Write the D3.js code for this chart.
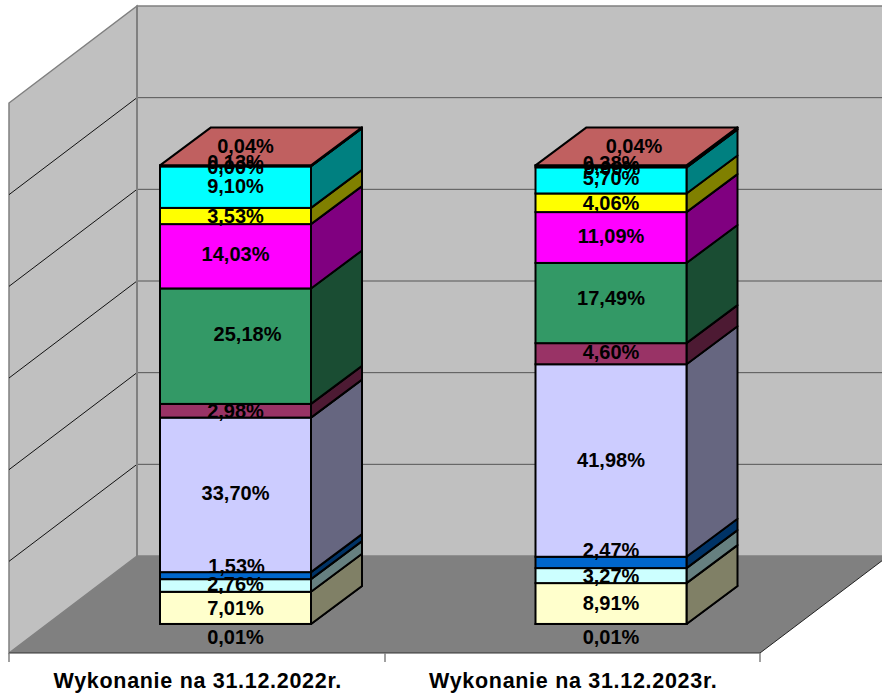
<!DOCTYPE html>
<html>
<head>
<meta charset="utf-8">
<script src="https://cdnjs.cloudflare.com/ajax/libs/d3/7.8.5/d3.min.js"></script>
<style>
html, body { margin: 0; padding: 0; background: #fff; }
svg { display: block; }
text { font-family: "Liberation Sans", Arial, sans-serif; font-weight: bold; fill: #000; }
</style>
</head>
<body>
<div id="chart"></div>
<script>
const categories = ["Wykonanie na 31.12.2022r.", "Wykonanie na 31.12.2023r."];

// one entry per series, bottom of the stack first
const values2022 = [0.01, 7.01, 2.76, 1.53, 33.70, 2.98, 25.18, 14.03, 3.53, 9.10, 0.00, 0.13, 0.04];
const values2023 = [0.01, 8.91, 3.27, 2.47, 41.98, 4.60, 17.49, 11.09, 4.06, 5.70, 0.00, 0.38, 0.04];
const seriesColors = ["#9999ff", "#ffffcc", "#ccffff", "#0066cc", "#ccccff", "#993366", "#339966",
    "#ff00ff", "#ffff00", "#00ffff", "#800080", "#808000", "#ff8080"];
const sideColors = ["#4c4c80", "#808066", "#668080", "#003366", "#666680", "#4d1a33", "#1a4d33",
    "#800080", "#808000", "#008080", "#400040", "#404000", "#804040"];
const topColor = "#c06060";
const gridTicks = [0, 20, 40, 60, 80, 100, 120];

// hand placed labels, the original chart had them dragged around
const labelDx = [
    [0, 0, 0, 1, 0, 0, 12, 0, 0, 0, 0, 0, 10],
    [0, 0, 0, 0, 0, 0, 0, 0, 0, 0, 1, 0, 23]
];
const labelDy = [
    [13, 0, -1, -10, -2, 0, -12, -2, 0, -1, 1, -4, -19],
    [13, -1, 0, -12, -1, -2, -5, -2, 0, -2, 1, -3, -19]
];

const width = 882;
const height = 698;

const svg = d3.select("#chart").append("svg")
    .attr("width", width)
    .attr("height", height)
    .attr("viewBox", [0, 0, width, height]);

// front plane of the bars
const y = d3.scaleLinear().domain([0, 100]).range([624, 165.4]);
const x = d3.scaleBand().domain(categories).range([9, 760]);
const barW = 151;
const barShift = 38.75;        // bars stand halfway into the floor
const dx = 51, dy = -38;       // depth of a bar
// back wall and floor
const backY = d3.scaleLinear().domain([0, 120]).range([556, 6]);
const wallX = 137, wallRight = 883, wallDy = 97;

const poly = pts => "M" + pts.map(p => p.join(",")).join("L") + "Z";

// back wall
svg.append("path")
    .attr("d", poly([[wallX, backY(120)], [wallRight, backY(120)], [wallRight, backY(0)], [wallX, backY(0)]]))
    .attr("fill", "#c0c0c0").attr("stroke", "#808080").attr("stroke-width", 1.5);
// left wall
svg.append("path")
    .attr("d", poly([[9, backY(120) + wallDy], [wallX, backY(120)], [wallX, backY(0)], [9, backY(0) + wallDy]]))
    .attr("fill", "#c0c0c0").attr("stroke", "#808080").attr("stroke-width", 1.5);
// floor
svg.append("path")
    .attr("d", poly([[9, backY(0) + wallDy], [wallX, backY(0)], [wallRight, backY(0)], [wallRight, backY(0) + 4], [760, backY(0) + wallDy]]))
    .attr("fill", "#808080");
svg.append("line").attr("x1", 760).attr("y1", backY(0) + wallDy).attr("x2", wallRight).attr("y2", backY(0) + 4)
    .attr("stroke", "#222").attr("stroke-width", 1);

// gridlines, back wall then left wall
gridTicks.filter(d => d > 0 && d < 120).forEach(d => {
    svg.append("line").attr("x1", wallX).attr("x2", wallRight)
        .attr("y1", backY(d)).attr("y2", backY(d))
        .attr("stroke", "#555").attr("stroke-width", 1);
    svg.append("line").attr("x1", 9).attr("x2", wallX)
        .attr("y1", backY(d) + wallDy).attr("y2", backY(d))
        .attr("stroke", "#111").attr("stroke-width", 1);
});
svg.append("line").attr("x1", wallX).attr("x2", wallX).attr("y1", backY(120)).attr("y2", backY(0))
    .attr("stroke", "#808080").attr("stroke-width", 2);

// bottom axis
svg.append("path").attr("d", `M9,${backY(0) + wallDy}H760`).attr("fill", "none").attr("stroke", "#333").attr("stroke-width", 1);
[9, 385, 760].forEach(t => {
    svg.append("line").attr("x1", t).attr("x2", t)
        .attr("y1", backY(0) + wallDy).attr("y2", backY(0) + wallDy + 9)
        .attr("stroke", "#808080").attr("stroke-width", 1.5);
});

const stacks = [values2022, values2023];
const labels = [];

stacks.forEach((vals, i) => {
    const x0 = x(categories[i]) + (x.bandwidth() - barW) / 2 + barShift;
    const x1 = x0 + barW;
    const g = svg.append("g");
    let cum = 0;
    vals.forEach((v, s) => {
        const yb = y(cum), yt = y(cum + v);
        g.append("path")
            .attr("d", poly([[x1, yb], [x1 + dx, yb + dy], [x1 + dx, yt + dy], [x1, yt]]))
            .attr("fill", sideColors[s]).attr("stroke", "#000").attr("stroke-width", 2).attr("stroke-linejoin", "round");
        g.append("rect")
            .attr("x", x0).attr("y", yt).attr("width", barW).attr("height", yb - yt)
            .attr("fill", seriesColors[s]).attr("stroke", "#000").attr("stroke-width", 2);
        labels.push({ x: x0 + barW / 2 + labelDx[i][s], y: (yb + yt) / 2 + labelDy[i][s], t: fmt(v) });
        cum += v;
    });
    const top = y(cum);
    g.append("path")
        .attr("d", poly([[x0, top], [x0 + dx, top + dy], [x1 + dx, top + dy], [x1, top]]))
        .attr("fill", topColor).attr("stroke", "#000").attr("stroke-width", 2).attr("stroke-linejoin", "round");
    // the thin top series stacks its outlines into one heavy edge
    g.append("line").attr("x1", x0).attr("x2", x1).attr("y1", top + 0.5).attr("y2", top + 0.5)
        .attr("stroke", "#000").attr("stroke-width", 3);
});

function fmt(v) { return v.toFixed(2).replace(".", ",") + "%"; }

svg.append("g").selectAll("text").data(labels).join("text")
    .attr("x", d => d.x).attr("y", d => d.y).attr("dy", "0.35em")
    .attr("text-anchor", "middle").attr("font-size", 20)
    .text(d => d.t);

svg.append("g").selectAll("text").data(categories).join("text")
    .attr("x", d => x(d) + x.bandwidth() / 2 + 1)
    .attr("y", 688)
    .attr("text-anchor", "middle").attr("font-size", 21.5).attr("letter-spacing", 0.7)
    .text(d => d);
</script>
</body>
</html>
